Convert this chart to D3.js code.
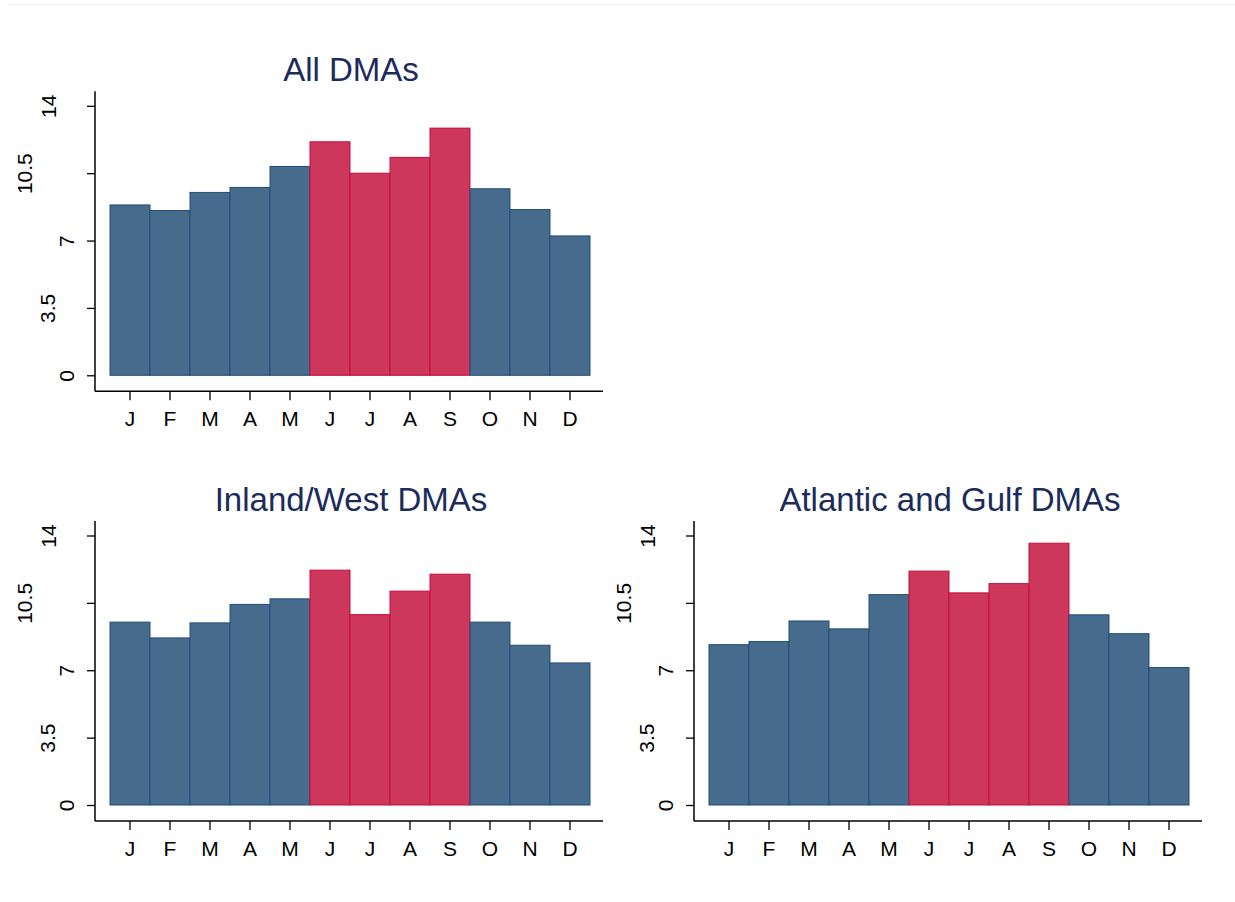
<!DOCTYPE html>
<html>
<head>
<meta charset="utf-8">
<script src="https://cdn.jsdelivr.net/npm/d3@7"></script>
<style>
  body { margin: 0; background: #fff; }
  svg { display: block; font-family: 'Liberation Sans', Arial, sans-serif; }
</style>
</head>
<body>
<svg width="1235" height="902"></svg>
<script>
'use strict';

const months = ['Jan', 'Feb', 'Mar', 'Apr', 'May', 'Jun', 'Jul', 'Aug', 'Sep', 'Oct', 'Nov', 'Dec'];
const month_labels = ['J', 'F', 'M', 'A', 'M', 'J', 'J', 'A', 'S', 'O', 'N', 'D'];
const summer_months = ['Jun', 'Jul', 'Aug', 'Sep'];

const all_dmas = [8.85, 8.56, 9.50, 9.76, 10.85, 12.13, 10.50, 11.32, 12.84, 9.69, 8.61, 7.24];
const inland_west = [9.50, 8.68, 9.46, 10.42, 10.71, 12.20, 9.89, 11.11, 11.99, 9.50, 8.30, 7.38];
const atlantic_gulf = [8.33, 8.49, 9.56, 9.15, 10.93, 12.15, 11.02, 11.50, 13.60, 9.88, 8.90, 7.14];

const y_ticks = [0, 3.5, 7, 10.5, 14];
const y_max = 14;

const blue = { fill: '#476b8c', stroke: '#234d76' };
const red = { fill: '#cd375b', stroke: '#c20f3e' };

const svg = d3.select('svg');

// faint frame line at the top
svg.append('line')
  .attr('x1', 8).attr('x2', 1235).attr('y1', 4.5).attr('y2', 4.5)
  .attr('stroke', '#f0f0f0').attr('stroke-width', 1);

function draw_panel(title, values, axis_x, zero_y) {
  const g = svg.append('g');

  const x = d3.scaleBand()
    .domain(months)
    .range([axis_x + 15, axis_x + 495])
    .padding(0);

  const y = d3.scaleLinear()
    .domain([0, y_max])
    .range([zero_y, zero_y - 269.5]);

  const axis_y = zero_y + 16;

  // bars
  g.selectAll('rect.bar')
    .data(months.map((m, i) => ({ month: m, value: values[i] })))
    .join('rect')
    .attr('class', 'bar')
    .attr('x', d => x(d.month))
    .attr('y', d => y(d.value))
    .attr('width', x.bandwidth())
    .attr('height', d => y(0) - y(d.value))
    .attr('fill', d => summer_months.includes(d.month) ? red.fill : blue.fill)
    .attr('stroke', d => summer_months.includes(d.month) ? red.stroke : blue.stroke)
    .attr('stroke-width', 1);

  // y axis; rotated labels sit further out the wider they are (as in the source)
  const label_shift = { '0': 0, '3.5': 19, '7': 0, '10.5': 42.5, '14': 18.5 };
  const ya = g.append('g')
    .attr('transform', `translate(${axis_x},0)`)
    .call(d3.axisLeft(y).tickValues(y_ticks).tickSize(8).tickFormat(d3.format('')));
  ya.select('.domain').remove();
  ya.selectAll('line').attr('stroke', '#000').attr('stroke-width', 1.3);
  ya.selectAll('text')
    .attr('fill', '#000')
    .attr('font-size', 21)
    .attr('text-anchor', 'middle')
    .attr('dy', null)
    .attr('x', null)
    .attr('transform', d => `translate(${-28.5 - label_shift[String(d)] + 7.6},0) rotate(-90)`);
  g.append('line')
    .attr('x1', axis_x).attr('x2', axis_x)
    .attr('y1', zero_y - 284).attr('y2', axis_y)
    .attr('stroke', '#000').attr('stroke-width', 1.5);

  // x axis
  const xa = g.append('g')
    .attr('transform', `translate(0,${axis_y})`)
    .call(d3.axisBottom(x).tickSize(9).tickFormat((d, i) => month_labels[i]));
  xa.select('.domain').remove();
  xa.selectAll('line').attr('stroke', '#000').attr('stroke-width', 1.3);
  xa.selectAll('text')
    .attr('fill', '#000')
    .attr('font-size', 21)
    .attr('dy', null)
    .attr('y', 35);
  g.append('line')
    .attr('x1', axis_x).attr('x2', axis_x + 508)
    .attr('y1', axis_y).attr('y2', axis_y)
    .attr('stroke', '#000').attr('stroke-width', 1.5);

  // title
  g.append('text')
    .attr('x', axis_x + 256)
    .attr('y', zero_y - 294)
    .attr('text-anchor', 'middle')
    .attr('font-size', 33)
    .attr('fill', '#1c2b5b')
    .text(title);
}

draw_panel('All DMAs', all_dmas, 95, 375.3);
draw_panel('Inland/West DMAs', inland_west, 95, 805);
draw_panel('Atlantic and Gulf DMAs', atlantic_gulf, 694, 805);
</script>
</body>
</html>
